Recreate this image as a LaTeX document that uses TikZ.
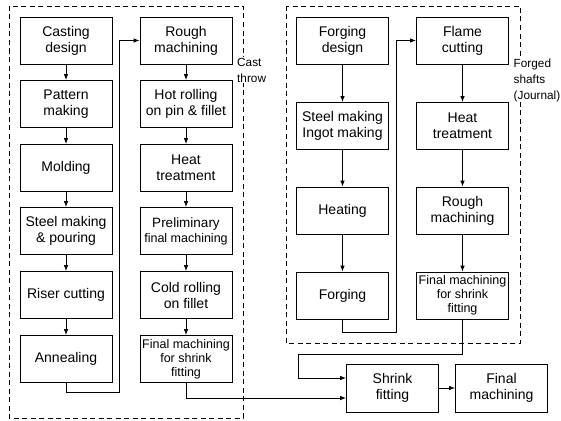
\documentclass[tikz,border=0pt]{standalone}
\usepackage{fontspec}
\setmainfont{Liberation Sans}
\usetikzlibrary{arrows.meta}
\begin{document}
\begin{tikzpicture}[x=1pt,y=-1pt,
  every node/.style={inner sep=0pt},
  box/.style={draw, line width=0.8pt, minimum width=92pt, minimum height=47pt, align=center,
    font=\fontsize{14}{16}\selectfont},
  smallbox/.style={box, font=\fontsize{12.5}{13.8}\selectfont},
  arr/.style={line width=0.8pt, -{Latex[length=6pt,width=4.5pt]}},
  conn/.style={line width=0.8pt},
  group/.style={draw, line width=0.7pt, dash pattern=on 5pt off 3.5pt},
  side/.style={fill=white, align=left, inner sep=1pt, font=\fontsize{11.8}{16}\selectfont}]
\useasboundingbox (0,0) rectangle (561,420);
% group frames
\draw[group] (9,6) rectangle (243,418);
\draw[group] (286,6) rectangle (520,343);
% cast column A
\node[box] (a1) at (66,40.5) {Casting\\design};
\node[box] (a2) at (66,104) {Pattern\\making};
\node[box] (a3) at (66,168) {Molding};
\node[box] (a4) at (66,231) {Steel making\\\& pouring};
\node[box] (a5) at (66,295) {Riser cutting};
\node[box] (a6) at (66,359) {Annealing};
% cast column B
\node[box] (b1) at (186,40.5) {Rough\\machining};
\node[box] (b2) at (186,104) {Hot rolling\\on pin \& fillet};
\node[box] (b3) at (186,168) {Heat\\treatment};
\node[box, font=\fontsize{13.5}{16}\selectfont] (b4) at (186,231) {Preliminary\\[-1pt]{\fontsize{12.5}{14}\selectfont final machining}};
\node[box] (b5) at (186,295) {Cold rolling\\on fillet};
\node[smallbox] (b6) at (186,359) {Final machining\\for shrink\\fitting};
% forged column C
\node[box] (c1) at (342.5,40.5) {Forging\\design};
\node[box] (c2) at (342.5,126) {Steel making\\Ingot making};
\node[box] (c3) at (342.5,210.5) {Heating};
\node[box] (c4) at (342.5,295.5) {Forging};
% forged column D
\node[box] (d1) at (462.5,40.5) {Flame\\cutting};
\node[box] (d2) at (462.5,126) {Heat\\treatment};
\node[box] (d3) at (462.5,210.5) {Rough\\machining};
\node[smallbox] (d4) at (462.5,295.5) {Final machining\\for shrink\\fitting};
% final
\node[box, minimum height=48pt] (sf) at (392.5,388) {Shrink\\fitting};
\node[box, minimum height=48pt] (fm) at (501.5,388) {Final\\machining};
% side labels
\node[side, anchor=west] (castlbl) at (236,70) {Cast\\throw};
\node[side, anchor=west] (forglbl) at (512.5,80) {Forged\\shafts\\(Journal)};
% corner coordinates
\coordinate (k1) at (119,392);
\coordinate (k2) at (396,332);
\coordinate (k3) at (298,354);
% arrows
\foreach \p/\q in {a1/a2,a2/a3,a3/a4,a4/a5,a5/a6,b1/b2,b2/b3,b3/b4,b4/b5,b5/b6,c1/c2,c2/c3,c3/c4,d1/d2,d2/d3,d3/d4}
  \draw[arr] (\p.south) -- (\q.north);
\draw[arr] (a6.south) |- (k1) |- (b1.west);
\draw[arr] (c4.south) |- (k2) |- (d1.west);
\draw[arr] (b6.south) |- ([yshift=-10pt]sf.west);
\draw[arr] (d4.south) |- (k3) |- ([yshift=10pt]sf.west);
\draw[arr] (sf.east) -- (fm.west);
\end{tikzpicture}
\end{document}
